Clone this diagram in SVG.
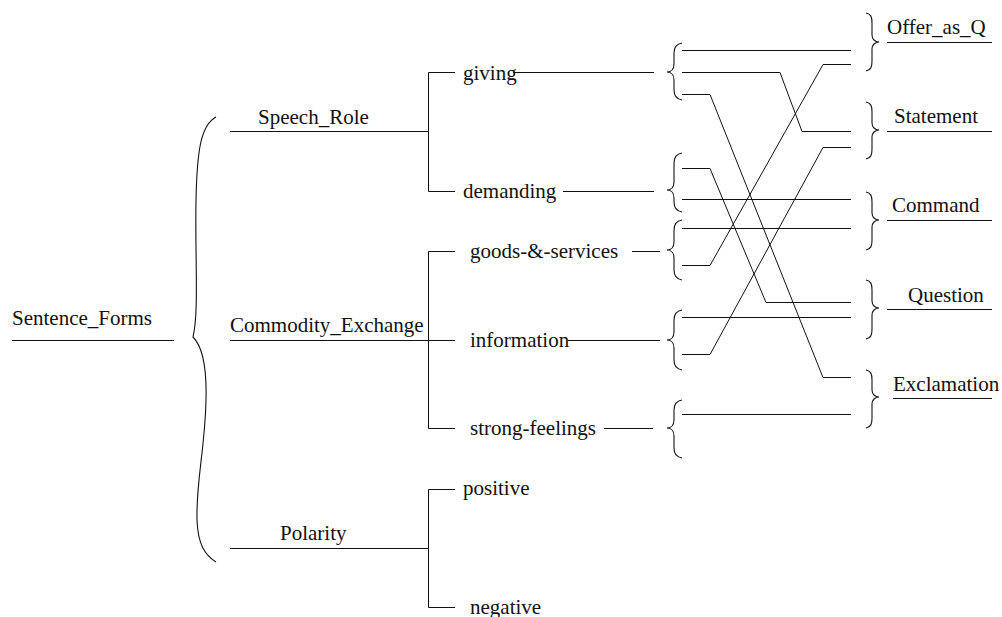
<svg xmlns="http://www.w3.org/2000/svg" width="1002" height="617" viewBox="0 0 1002 617">
  <style>
    text { font-family: "Liberation Serif", "Times New Roman", serif; font-size: 21px; fill: #111; }
    .ln { fill: none; stroke: #111; stroke-width: 1; }
    .br { fill: none; stroke: #111; stroke-width: 1.1; }
  </style>
  <rect width="1002" height="617" fill="#fff"/>

  <!-- system nodes -->
  <g id="sentence_forms">
    <text x="12" y="325">Sentence_Forms</text>
    <path class="ln" d="M12,340.5 H174"/>
  </g>
  <g id="speech_role">
    <text x="258" y="124">Speech_Role</text>
  </g>
  <g id="commodity_exchange">
    <text x="230" y="332">Commodity_Exchange</text>
  </g>
  <g id="polarity">
    <text x="280" y="540">Polarity</text>
  </g>
  <g id="giving"><text x="463" y="80">giving</text></g>
  <g id="demanding"><text x="463" y="198">demanding</text></g>
  <g id="goods_services"><text x="470" y="258">goods-&amp;-services</text></g>
  <g id="information"><text x="470" y="347">information</text></g>
  <g id="strong_feelings"><text x="470" y="435">strong-feelings</text></g>
  <g id="positive"><text x="463" y="495">positive</text></g>
  <g id="negative"><text x="470" y="614">negative</text></g>

  <!-- output forms -->
  <g id="offer_as_q">
    <text x="887" y="34">Offer_as_Q</text>
    <path class="ln" d="M887,42.5 H992"/>
  </g>
  <g id="statement">
    <text x="894" y="123">Statement</text>
    <path class="ln" d="M887,131.5 H992"/>
  </g>
  <g id="command">
    <text x="892" y="212">Command</text>
    <path class="ln" d="M887,220.5 H992"/>
  </g>
  <g id="question">
    <text x="908" y="302">Question</text>
    <path class="ln" d="M887,309.5 H992"/>
  </g>
  <g id="exclamation">
    <text x="893" y="391">Exclamation</text>
    <path class="ln" d="M893,398.5 H992"/>
  </g>

  <g id="connectors">
    <!-- main brace -->
    <path class="br" d="M216,117 C201,125 197,150 196,200 C195,260 199,312 193,337 C201,345 207,362 206,400 C205,450 196,480 197,520 C198,545 205,555 216,562"/>

    <!-- system entry lines -->
    <path class="ln" d="M230,131.5 H428"/>
    <path class="ln" d="M230,340.5 H455"/>
    <path class="ln" d="M230,548.5 H428"/>

    <!-- choice brackets -->
    <path class="ln" d="M455,72.5 H428.5 V191.5 H455"/>
    <path class="ln" d="M455,251.5 H428.5 V428.5 H455"/>
    <path class="ln" d="M455,489.5 H428.5 V607.5 H455"/>

    <!-- feature lines -->
    <path class="ln" d="M513,72.5 H654"/>
    <path class="ln" d="M563,191.5 H654"/>
    <path class="ln" d="M632,251.5 H660"/>
    <path class="ln" d="M568,340.5 H660"/>
    <path class="ln" d="M604,428.5 H653"/>

    <!-- left-facing braces -->
    <path class="br" d="M682,43 C676,44 674,47 674,53 L674,64 C674,69 671,72 667,72 C671,72 674,75 674,80 L674,90 C674,96 676,99 682,100"/>
    <path class="br" d="M682,153 C676,154 674,157 674,163 L674,182 C674,187 671,190 667,190 C671,190 674,193 674,198 L674,202 C674,208 676,211 682,212"/>
    <path class="br" d="M682,220 C676,221 674,224 674,230 L674,242 C674,247 671,250 667,250 C671,250 674,253 674,258 L674,270 C674,276 676,279 682,280"/>
    <path class="br" d="M682,310 C676,311 674,314 674,320 L674,332 C674,337 671,340 667,340 C671,340 674,343 674,348 L674,360 C674,366 676,369 682,370"/>
    <path class="br" d="M682,400 C676,401 674,404 674,410 L674,420 C674,425 671,428 667,428 C671,428 674,431 674,436 L674,448 C674,454 676,457 682,458"/>

    <!-- right-facing braces -->
    <path class="br" d="M866,13 C871,14 872,17 872,23 L872,35 C872,39 875,42 879,42 C875,42 872,45 872,49 L872,61 C872,67 871,70 866,71"/>
    <path class="br" d="M866,102 C871,103 872,106 872,112 L872,123 C872,127 875,130 879,130 C875,130 872,133 872,137 L872,149 C872,155 871,158 866,159"/>
    <path class="br" d="M866,192 C871,193 872,196 872,202 L872,213 C872,217 875,220 879,220 C875,220 872,223 872,227 L872,240 C872,246 871,249 866,250"/>
    <path class="br" d="M866,280 C871,281 872,284 872,290 L872,301 C872,305 875,308 879,308 C875,308 872,311 872,315 L872,329 C872,335 871,338 866,339"/>
    <path class="br" d="M866,370 C871,371 872,374 872,380 L872,390 C872,394 875,397 879,397 C875,397 872,400 872,404 L872,418 C872,424 871,427 866,428"/>

    <!-- realisation wiring -->
    <path class="ln" d="M682,50.5 H851"/>
    <path class="ln" d="M682,72.5 H780 L802,131.5 H851"/>
    <path class="ln" d="M682,94.5 H710 L823,377.5 H851"/>
    <path class="ln" d="M682,168.5 H710 L766,302.5 H851"/>
    <path class="ln" d="M682,199.5 H851"/>
    <path class="ln" d="M682,228.5 H851"/>
    <path class="ln" d="M682,265.5 H710 L823,64.5 H851"/>
    <path class="ln" d="M682,317.5 H851"/>
    <path class="ln" d="M682,354.5 H710 L823,147.5 H851"/>
    <path class="ln" d="M682,414.5 H851"/>
  </g>
</svg>
